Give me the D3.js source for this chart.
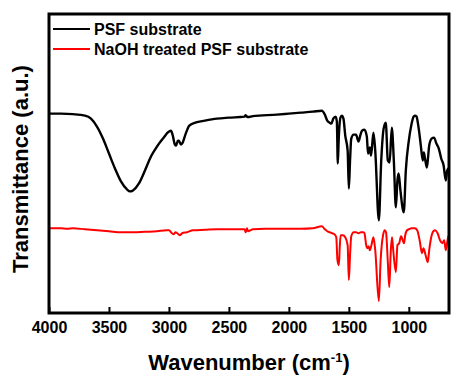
<!DOCTYPE html>
<html lang="en">
<head>
    <meta charset="UTF-8">
    <title>FTIR spectra</title>
    <script src="https://d3js.org/d3.v7.min.js"></script>
    <style>
        body { margin: 0; background: #fff; }
        text { font-family: Arial, "Liberation Sans", sans-serif; font-weight: bold; }
    </style>
</head>
<body>
    <svg id="chart" width="451" height="377"></svg>
    <script>
        // wavenumber (cm-1) and transmittance (a.u.)
        const psfWave = [4000, 3900, 3800, 3700, 3650, 3600, 3550, 3500, 3450, 3400, 3350, 3325, 3300, 3250, 3200, 3150, 3100, 3050, 3000, 2983, 2970, 2950, 2940, 2925, 2917, 2900, 2890, 2860, 2830, 2780, 2700, 2600, 2500, 2370, 2360, 2345, 2300, 2100, 2000, 1900, 1800, 1725, 1700, 1680, 1660, 1645, 1630, 1610, 1600, 1592, 1585, 1570, 1558, 1545, 1530, 1510, 1500, 1490, 1480, 1460, 1440, 1420, 1405, 1390, 1370, 1350, 1340, 1325, 1315, 1295, 1280, 1250, 1230, 1210, 1192, 1175, 1160, 1142, 1125, 1108, 1095, 1085, 1070, 1042, 1025, 1000, 980, 960, 950, 935, 925, 915, 900, 883, 875, 865, 850, 842, 830, 810, 790, 770, 750, 730, 710, 692, 680, 670, 665];
        const psfT = [200, 200, 199.5, 198, 195, 187, 175, 160, 145, 132, 124, 122, 123, 130, 143, 157, 167, 175, 182, 183, 179, 169, 168, 173, 173, 169, 170, 180, 188, 191, 193, 195, 196, 197, 198.5, 196.5, 197.5, 199, 200, 201, 202, 203, 199, 193, 191, 190, 195, 197, 192, 150, 173, 196, 198, 195, 178, 163, 125, 153, 175, 179, 179, 172, 178, 183, 184, 177, 160, 166, 158, 181, 163, 93, 153, 185, 191, 153, 151, 186, 153, 106, 133, 140, 123, 101, 143, 173, 188, 197, 198, 197, 191, 183, 168, 153, 161, 155, 146, 153, 168, 175, 176, 170, 165, 155, 148, 133, 143, 145, 143];

        const naohWave = [4000, 3900, 3850, 3800, 3700, 3600, 3500, 3400, 3300, 3200, 3100, 3020, 3000, 2975, 2960, 2945, 2930, 2910, 2890, 2850, 2800, 2700, 2600, 2400, 2370, 2360, 2350, 2340, 2320, 2300, 2200, 2000, 1900, 1800, 1725, 1700, 1680, 1660, 1640, 1620, 1605, 1595, 1583, 1575, 1568, 1550, 1530, 1510, 1500, 1490, 1480, 1460, 1440, 1420, 1400, 1380, 1370, 1355, 1345, 1335, 1325, 1310, 1295, 1280, 1250, 1235, 1215, 1200, 1190, 1175, 1163, 1150, 1140, 1130, 1108, 1095, 1080, 1065, 1040, 1030, 1015, 1000, 975, 950, 930, 910, 890, 878, 860, 842, 830, 815, 795, 780, 760, 740, 720, 705, 692, 680, 670, 665];
        const naohT = [85, 85, 84.5, 85, 84, 83, 82, 81, 81, 81.5, 82, 83, 83, 80, 79, 81, 80, 78, 80, 81, 83, 83.5, 84, 84, 84, 81, 85, 82, 83, 84, 84.5, 84.5, 84.5, 85, 87, 84, 82, 81, 80, 79, 76, 53, 48, 68, 78, 78, 76, 68, 33, 58, 77, 81, 81, 80, 81, 81, 80, 68, 65, 67, 63, 69, 76, 63, 12, 53, 78, 83, 81, 51, 26, 63, 76, 63, 41, 68, 70, 77, 70, 78, 83, 84, 85, 85, 83, 73, 60, 65, 58, 51, 63, 75, 82, 83, 80, 73, 70, 73, 63, 71, 77, 78];

        const seriesNames = ["PSF substrate", "NaOH treated PSF substrate"];
        const seriesColors = ["#000000", "#ff0000"];
        const xTicks = [4000, 3500, 3000, 2500, 2000, 1500, 1000];

        const svg = d3.select("#chart");
        const margin = {top: 14, right: 2, bottom: 64, left: 49};
        const width = +svg.attr("width") - margin.left - margin.right;
        const height = +svg.attr("height") - margin.top - margin.bottom;
        const g = svg.append("g").attr("transform", `translate(${margin.left},${margin.top})`);

        const x = d3.scaleLinear().domain([4000, 665]).range([0, width]);
        const y = d3.scaleLinear().domain([0, 300]).range([height, 0]);

        const series = [
            {name: seriesNames[0], color: seriesColors[0], width: 2.4, values: psfWave.map((w, i) => [w, psfT[i]])},
            {name: seriesNames[1], color: seriesColors[1], width: 2, values: naohWave.map((w, i) => [w, naohT[i]])}
        ];

        const line = d3.line()
            .x(d => x(d[0]))
            .y(d => y(d[1]))
            .curve(d3.curveMonotoneX);

        g.selectAll(".spec")
            .data(series)
            .enter().append("path")
                .attr("class", "spec")
                .attr("fill", "none")
                .attr("stroke", d => d.color)
                .attr("stroke-width", d => d.width)
                .attr("stroke-linejoin", "round")
                .attr("d", d => line(d.values));

        // bottom axis, ticks pointing inward
        const xAxis = g.append("g")
            .attr("transform", `translate(0,${height})`)
            .call(d3.axisBottom(x).tickValues(xTicks).tickFormat(d3.format("d"))
                .tickSizeInner(-6).tickSizeOuter(0).tickPadding(9));
        xAxis.select(".domain").remove();
        xAxis.selectAll("line").attr("stroke-width", 2);
        xAxis.selectAll("text").attr("font-size", 16).attr("fill", "#000");

        // frame
        g.append("rect")
            .attr("width", width)
            .attr("height", height)
            .attr("fill", "none")
            .attr("stroke", "#000")
            .attr("stroke-width", 3);

        // legend
        const legend = g.selectAll(".legend")
            .data(series)
            .enter().append("g")
                .attr("class", "legend")
                .attr("transform", (d, i) => `translate(4,${15 + i * 20})`);
        legend.append("line")
            .attr("x1", 0).attr("x2", 37)
            .attr("stroke", d => d.color)
            .attr("stroke-width", 2);
        legend.append("text")
            .attr("x", 41)
            .attr("dy", "0.36em")
            .attr("font-size", 16)
            .text(d => d.name);

        // axis titles
        const xTitle = svg.append("text")
            .attr("x", margin.left + width / 2)
            .attr("y", 370)
            .attr("text-anchor", "middle")
            .attr("font-size", 22);
        xTitle.append("tspan").text("Wavenumber (cm");
        xTitle.append("tspan").attr("dy", -8).attr("font-size", 13).text("-1");
        xTitle.append("tspan").attr("dy", 8).text(")");

        svg.append("text")
            .attr("transform", "translate(28,169) rotate(-90)")
            .attr("text-anchor", "middle")
            .attr("font-size", 22)
            .text("Transmittance (a.u.)");
    </script>
</body>
</html>
